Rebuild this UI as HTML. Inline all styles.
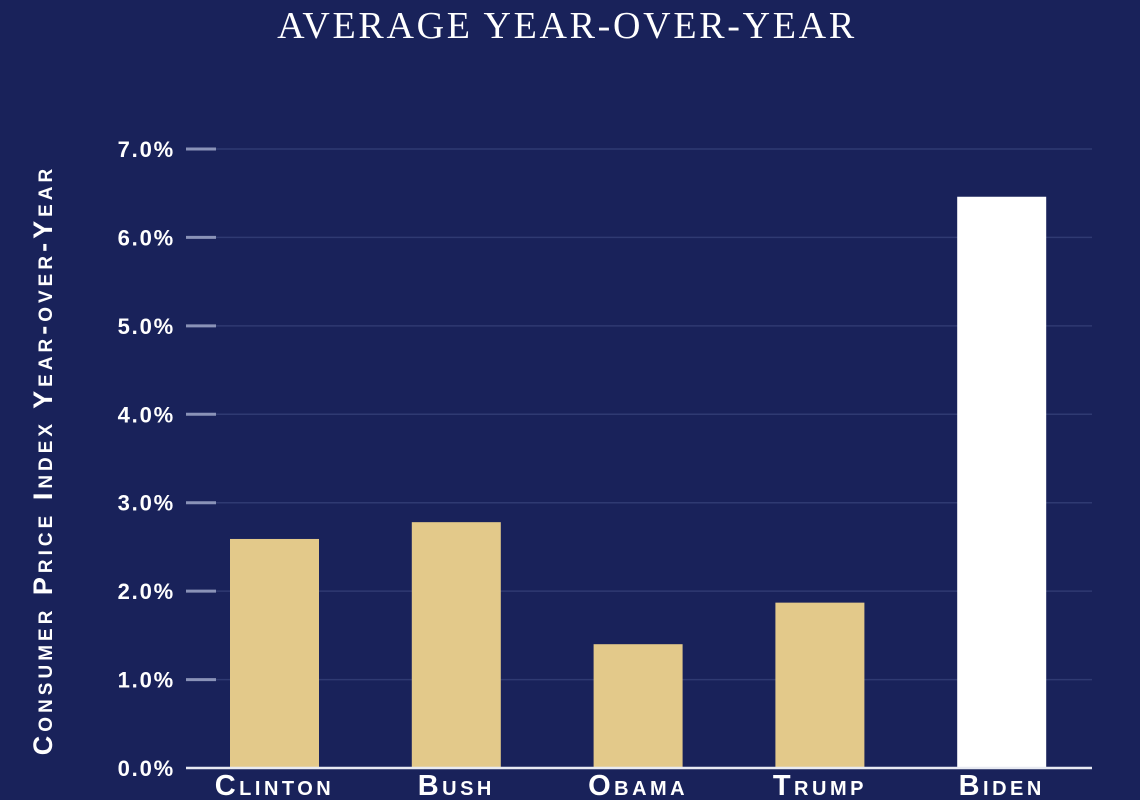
<!DOCTYPE html>
<html><head><meta charset="utf-8"><style>
html,body{margin:0;padding:0;background:#19225a;}
svg{display:block;}
</style></head><body>
<svg width="1140" height="800" viewBox="0 0 1140 800" id="chart">
<rect width="1140" height="800" fill="#19225a"/>
<text x="567" y="38" text-anchor="middle" fill="#ffffff" font-family="Liberation Serif, serif" font-size="38" letter-spacing="2.7">AVERAGE YEAR-OVER-YEAR</text>
<text transform="translate(52,460) rotate(-90)" text-anchor="middle" fill="#ffffff" font-family="Liberation Sans, sans-serif" font-weight="bold" font-size="27" letter-spacing="4" style="font-variant:small-caps">Consumer Price Index Year-over-Year</text>
<g id="grid"></g><g id="bars"></g><g id="labels"></g>
</svg>
<script>
const categories=["Clinton","Bush","Obama","Trump","Biden"];
const values=[2.59,2.78,1.40,1.87,6.46];
const highlight=[false,false,false,false,true];
const tickValues=[0,1,2,3,4,5,6,7];
const tickLabels=["0.0%","1.0%","2.0%","3.0%","4.0%","5.0%","6.0%","7.0%"];
const NS="http://www.w3.org/2000/svg";
const y0=768,pxPer=88.43,x0=230,step=181.8,bw=89;
const y=v=>y0-v*pxPer;
const xc=i=>x0+i*step;
function mk(t,a,p){const e=document.createElementNS(NS,t);for(const k in a)e.setAttribute(k,a[k]);p.appendChild(e);return e;}
const g=document.getElementById('grid');
tickValues.forEach((v,i)=>{
  if(v>0){const l=mk('line',{x1:215,x2:1092,y1:y(v),y2:y(v),stroke:'#2f3a72','stroke-width':1.5},g);
  
  
  const tk=mk('line',{x1:186,x2:216,y1:y(v),y2:y(v),stroke:'#8a93b8','stroke-width':3},g);
  
  }
  const t=mk('text',{x:175,y:y(v)+8,'text-anchor':'end',fill:'#fff','font-family':'Liberation Sans, sans-serif','font-weight':'bold','font-size':22,'letter-spacing':1.8},g);
  t.textContent=tickLabels[i];
  
  
});
const b=document.getElementById('bars');
values.forEach((v,i)=>{
  const r=mk('rect',{x:xc(i),y:y(v),width:bw,height:y0-y(v),fill:highlight[i]?'#ffffff':'#e3c98a'},b);
  
  
});
const base=mk('line',{x1:186,x2:1092,y1:y0,y2:y0,stroke:'#e8eaf2','stroke-width':2.5},b);


const lg=document.getElementById('labels');
categories.forEach((c,i)=>{
  const t=mk('text',{x:xc(i)+bw/2,y:795,'text-anchor':'middle',fill:'#fff','font-family':'Liberation Sans, sans-serif','font-weight':'bold','font-size':29,'letter-spacing':3.5,style:'font-variant:small-caps'},lg);
  t.textContent=c;
  
  
});
</script>
</body></html>
